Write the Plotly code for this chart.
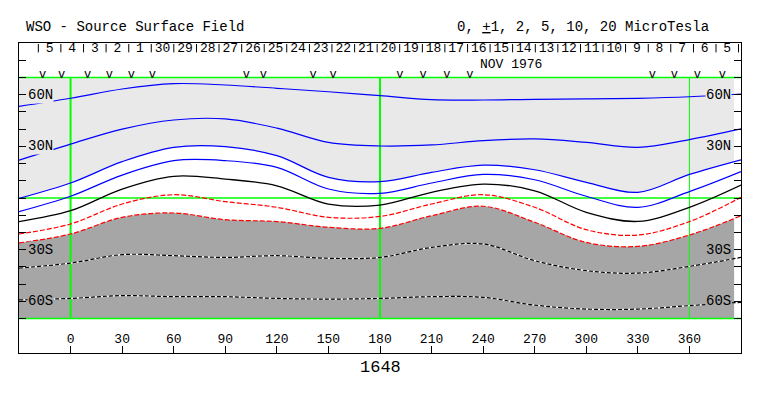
import plotly.graph_objects as go

# ---------------- data ----------------
lon = [-30, 0, 30, 60, 90, 120, 150, 180, 210, 240, 270, 300, 330, 360, 390]

pos10 = [53.2, 57.9, 63.3, 66.4, 65.6, 63.7, 61.7, 59.4, 57.1, 56.9, 57.3, 57.5, 57.9, 58.8, 60.4]
pos5 = [22.0, 31.3, 40.0, 45.3, 45.9, 40.6, 32.3, 30.2, 30.8, 33.3, 34.3, 32.3, 29.4, 33.9, 40.1]
pos2 = [-0.2, 8.7, 21.1, 29.4, 29.8, 24.6, 12.0, 9.5, 14.9, 19.1, 16.4, 9.1, 3.3, 13.7, 22.2]
pos1 = [-7.9, 1.0, 13.3, 21.7, 21.7, 17.8, 5.2, 2.7, 8.7, 13.7, 10.6, 1.0, -5.4, 3.7, 15.3]
neutral = [-13.7, -7.4, 5.2, 12.6, 11.0, 7.1, -3.5, -4.1, 3.3, 8.1, 4.2, -8.3, -13.6, -5.4, 7.5]
neg1 = [-20.9, -15.1, -3.5, 1.9, -2.1, -5.4, -11.2, -10.7, -3.5, 1.9, -5.4, -18.4, -21.5, -13.7, 0.4]
neg2 = [-26.1, -20.9, -11.2, -8.7, -12.6, -13.7, -17.0, -17.6, -10.3, -4.8, -14.1, -25.8, -28.1, -21.5, -10.3]
neg5 = [-40.7, -37.8, -32.9, -33.5, -34.5, -33.5, -35.0, -34.5, -28.7, -26.7, -36.4, -42.2, -43.6, -39.7, -34.5]
neg10 = [-59.2, -58.3, -56.7, -57.3, -57.3, -58.3, -58.7, -58.3, -57.3, -57.7, -62.2, -64.5, -64.5, -62.5, -60.6]

day_labels = ["5", "4", "3", "2", "1", "30", "29", "28", "27", "26", "25", "24", "23", "22", "21",
              "20", "19", "18", "17", "16", "15", "14", "13", "12", "11", "10", "9", "8", "7", "6", "5"]
day_lon = [-12.2, 0.9, 14.1, 27.2, 40.4, 53.5, 66.6, 79.8, 92.9, 106.1, 119.2, 132.3, 145.5, 158.6, 171.8,
           184.9, 198.0, 211.2, 224.3, 237.5, 250.6, 263.7, 276.9, 290.0, 303.2, 316.3, 329.4, 342.6,
           355.7, 368.9, 382.0]
obs_lon = [-16.3, -5.2, 9.9, 22.6, 35.4, 47.6, 102.2, 112.1, 141.1, 152.7, 191.6, 205.0, 218.9, 232.3,
           338.5, 351.3, 364.6, 379.2]

x_ticks = [0, 30, 60, 90, 120, 150, 180, 210, 240, 270, 300, 330, 360]
y_ticks = [-80, -70, -60, -50, -40, -30, -20, -10, 0, 10, 20, 30, 40, 50, 60, 70, 80]
lat_labels = [(60, "60N"), (30, "30N"), (-30, "30S"), (-60, "60S")]

rotation = "1648"
month = "NOV 1976"

# ---------------- style ----------------
FONT = "Liberation Mono"
LIGHT = "#e9e9e9"
DARK = "#a6a6a6"
GREEN = "#00ff00"
XMIN, XMAX = -30, 390
LATMAX = 70

fig = go.Figure()

# light grey (strong positive) fill
fig.add_trace(go.Scatter(x=[XMIN, XMAX], y=[LATMAX, LATMAX], mode="lines",
                         line=dict(width=0, color=LIGHT), hoverinfo="skip"))
fig.add_trace(go.Scatter(x=lon, y=pos2, mode="lines", line=dict(width=0, color=LIGHT, shape="spline"),
                         fill="tonexty", fillcolor=LIGHT, hoverinfo="skip"))
# dark grey (strong negative) fill
fig.add_trace(go.Scatter(x=[XMIN, XMAX], y=[-LATMAX, -LATMAX], mode="lines",
                         line=dict(width=0, color=DARK), hoverinfo="skip"))
fig.add_trace(go.Scatter(x=lon, y=neg2, mode="lines", line=dict(width=0, color=DARK, shape="spline"),
                         fill="tonexty", fillcolor=DARK, hoverinfo="skip"))
# white strip at right edge of map
fig.add_trace(go.Scatter(x=[386, XMAX, XMAX, 386], y=[-LATMAX, -LATMAX, LATMAX, LATMAX],
                         mode="lines", fill="toself", fillcolor="white", line=dict(width=0),
                         hoverinfo="skip"))

# green reference lines
for gx, gw in [(0, 2), (180, 2), (360, 1)]:
    fig.add_trace(go.Scatter(x=[gx, gx], y=[-LATMAX, LATMAX], mode="lines",
                             line=dict(color=GREEN, width=gw), hoverinfo="skip"))
for gy in [LATMAX, 0, -LATMAX]:
    fig.add_trace(go.Scatter(x=[XMIN, XMAX], y=[gy, gy], mode="lines",
                             line=dict(color=GREEN, width=1.6), hoverinfo="skip"))

# contour lines
for ys in [pos10, pos5, pos2, pos1]:
    fig.add_trace(go.Scatter(x=lon, y=ys, mode="lines",
                             line=dict(color="#0000ff", width=1.2, shape="spline"), hoverinfo="skip"))
fig.add_trace(go.Scatter(x=lon, y=neutral, mode="lines",
                         line=dict(color="black", width=1.3, shape="spline"), hoverinfo="skip"))
for ys in [neg1, neg2]:
    fig.add_trace(go.Scatter(x=lon, y=ys, mode="lines",
                             line=dict(color="#ff0000", width=1.2, shape="spline", dash="5px,2px"),
                             hoverinfo="skip"))
for ys in [neg5, neg10]:
    fig.add_trace(go.Scatter(x=lon, y=ys, mode="lines",
                             line=dict(color="white", width=1.2, shape="spline"), hoverinfo="skip"))
    fig.add_trace(go.Scatter(x=lon, y=ys, mode="lines",
                             line=dict(color="black", width=1.2, shape="spline", dash="4px,2px"),
                             hoverinfo="skip"))

# observation markers
fig.add_trace(go.Scatter(x=obs_lon, y=[71.4] * len(obs_lon), mode="text", text=["v"] * len(obs_lon),
                         textfont=dict(family=FONT, size=12, color="black"), hoverinfo="skip"))

# day labels and separators
fig.add_trace(go.Scatter(x=day_lon, y=[86.5] * len(day_lon), mode="text", text=day_labels,
                         textfont=dict(family=FONT, size=13, color="black"), hoverinfo="skip"))
step = day_lon[1] - day_lon[0]
sep = [d - step / 2 for d in day_lon] + [day_lon[-1] + step / 2]
fig.add_trace(go.Scatter(x=sep, y=[87.0] * len(sep), mode="markers",
                         marker=dict(symbol="line-ns", size=6, line=dict(width=1, color="black")),
                         hoverinfo="skip"))

annotations = []
for lat, txt in lat_labels:
    bg = LIGHT if lat > 0 else DARK
    annotations.append(dict(x=-25.3, y=lat, xref="x", yref="y", text=txt, showarrow=False,
                            xanchor="left", yanchor="middle", bgcolor=bg, borderpad=0,
                            font=dict(family=FONT, size=14, color="black")))
    annotations.append(dict(x=385.0, y=lat, xref="x", yref="y", text=txt, showarrow=False,
                            xanchor="right", yanchor="middle", bgcolor=bg, borderpad=0,
                            font=dict(family=FONT, size=14, color="black")))

annotations += [
    dict(x=236.8, y=77.5, xref="x", yref="y", text=month, showarrow=False, xanchor="left",
         yanchor="middle", font=dict(family=FONT, size=13, color="black")),
    dict(x=0.0069, y=1.0518, xref="paper", yref="paper", text="WSO - Source Surface Field",
         showarrow=False, xanchor="left", yanchor="middle", font=dict(family=FONT, size=14, color="black")),
    dict(x=0.958, y=1.0518, xref="paper", yref="paper",
         text="0, <u>+</u>1, 2, 5, 10, 20 MicroTesla",
         showarrow=False, xanchor="right", yanchor="middle", font=dict(family=FONT, size=14, color="black")),
    dict(x=180, y=-0.048, xref="x", yref="paper", text=rotation, showarrow=False,
         xanchor="center", yanchor="middle", font=dict(family=FONT, size=17, color="black")),
    dict(x=-32.0, y=0, xref="x", yref="y", text=">", showarrow=False, xanchor="center",
         yanchor="middle", font=dict(family=FONT, size=9, color=GREEN)),
]

# the page body adds an 8px offset, so the figure is 8px smaller and margins shifted
fig.update_layout(
    width=755, height=388,
    margin=dict(l=11, r=22, t=35, b=43, pad=0),
    paper_bgcolor="white", plot_bgcolor="white",
    showlegend=False, hovermode=False,
    annotations=annotations,
    xaxis=dict(range=[XMIN, XMAX], tickvals=x_ticks, ticktext=[str(v) for v in x_ticks],
               ticks="inside", ticklen=7, tickcolor="black", tickwidth=1,
               ticklabelposition="inside", showline=True, linecolor="black", linewidth=1,
               mirror=True, showgrid=False, zeroline=False,
               tickfont=dict(family=FONT, size=13, color="black")),
    yaxis=dict(range=[-90, 90], tickvals=y_ticks, ticks="inside", ticklen=7, tickcolor="black",
               tickwidth=1, showticklabels=False, showline=True, linecolor="black", linewidth=1,
               mirror="ticks", showgrid=False, zeroline=False),
)

fig.write_html("out.html")
